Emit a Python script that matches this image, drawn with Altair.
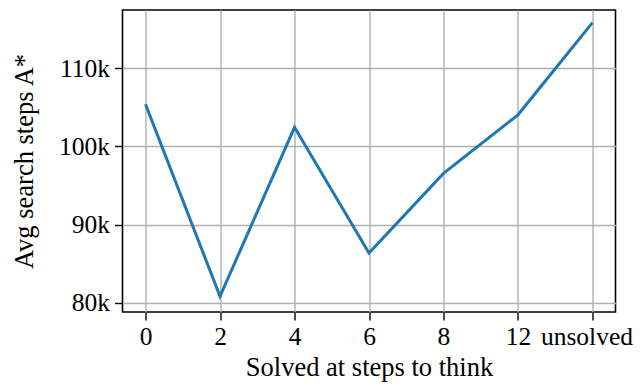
import altair as alt
import pandas as pd

categories = ["0", "2", "4", "6", "8", "12", "unsolved"]
avg_steps = [105400, 80800, 102450, 86350, 96550, 104050, 115850]
y_ticks = [80000, 90000, 100000, 110000]

df = pd.DataFrame({"cat": categories, "steps": avg_steps})

FONT = "Liberation Serif"

chart = alt.Chart(df).mark_line(color="#1f77b4", strokeWidth=3).encode(
    x=alt.X("cat:O", sort=categories,
            scale=alt.Scale(type="point", padding=0.309),
            axis=alt.Axis(title="Solved at steps to think", labelAngle=0,
                          grid=True, gridColor="#b0b0b0", gridWidth=1.4,
                          domain=False, ticks=True, tickSize=8, tickWidth=1.4,
                          tickColor="black", labelPadding=4, titlePadding=5,
                          labelOffset=alt.condition("datum.value == 'unsolved'",
                                                    alt.value(-6), alt.value(0)))),
    y=alt.Y("steps:Q",
            scale=alt.Scale(domain=[78800, 117470], nice=False, zero=False),
            axis=alt.Axis(title="Avg search steps A*", values=y_ticks, format="~s",
                          grid=True, gridColor="#b0b0b0", gridWidth=1.4,
                          domain=False, ticks=True, tickSize=8, tickWidth=1.4,
                          tickColor="black", labelPadding=5, titlePadding=20)),
).properties(
    width=493, height=302,
    autosize=alt.AutoSizeParams(type="none"),
    padding={"left": 114.5, "top": 2, "right": 19.5, "bottom": 72},
).configure_view(
    stroke="black", strokeWidth=1.6
).configure_axis(
    labelFont=FONT, titleFont=FONT, labelFontSize=25.5, titleFontSize=26.5,
    titleFontWeight="normal", labelColor="black", titleColor="black",
    gridOpacity=1
)

chart.save("out.html", embed_options={"renderer": "svg", "actions": False})
